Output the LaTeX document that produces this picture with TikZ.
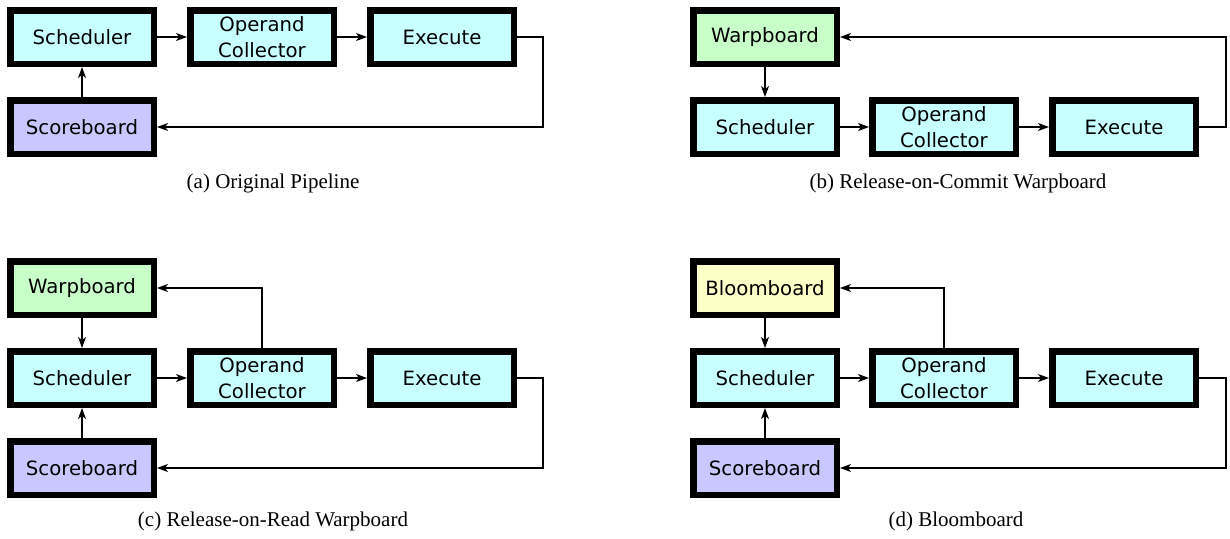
\documentclass[tikz,border=0pt]{standalone}
\usepackage{fontspec}
\setmainfont{Liberation Serif}
\newfontfamily\boxfont{DejaVu Sans}
\usetikzlibrary{arrows.meta}

\definecolor{unitcyan}{RGB}{200,255,255}
\definecolor{scorepurple}{RGB}{200,200,255}
\definecolor{warpgreen}{RGB}{200,255,200}
\definecolor{bloomyellow}{RGB}{255,255,200}

\tikzset{
  unit/.style={draw=black, line width=6.5pt, rectangle,
    minimum width=143.5pt, minimum height=53.5pt, inner sep=0pt,
    align=center, font=\boxfont\fontsize{19.7}{25.5}\selectfont},
  stage/.style={unit, fill=unitcyan},
  scoreunit/.style={unit, fill=scorepurple},
  warpunit/.style={unit, fill=warpgreen},
  bloomunit/.style={unit, fill=bloomyellow},
  link/.style={line width=1.2pt, -{Stealth[length=11pt,width=8pt,inset=3pt]}},
  caption/.style={font=\fontsize{21}{25}\selectfont, inner sep=0pt}
}

\begin{document}
\begin{tikzpicture}[x=1pt, y=-1pt]
\useasboundingbox (0,0) rectangle (1230,538);

% (a) baseline pipeline
\node[stage] (aSch) at (82,37) {Scheduler};
\node[stage] (aOC) at (262,37) {Operand\\Collector};
\node[stage] (aEx) at (442,37) {Execute};
\node[scoreunit] (aSB) at (82,127) {Scoreboard};
\coordinate (aR1) at (543,37);
\coordinate (aR2) at (543,127);
\draw[link] (aSch) -- (aOC);
\draw[link] (aOC) -- (aEx);
\draw[link] (aSB) -- (aSch);
\draw[link] (aEx.east) -- (aR1) -- (aR2) -- (aSB.east);
\node[caption] (aCap) at (273,183) {(a) Original Pipeline};

% (b) warpboard released on commit
\node[warpunit] (bWB) at (765,37) {Warpboard};
\node[stage] (bSch) at (765,127) {Scheduler};
\node[stage] (bOC) at (944,127) {Operand\\Collector};
\node[stage] (bEx) at (1124,127) {Execute};
\coordinate (bR1) at (1226,127);
\coordinate (bR2) at (1226,37);
\draw[link] (bWB) -- (bSch);
\draw[link] (bSch) -- (bOC);
\draw[link] (bOC) -- (bEx);
\draw[link] (bEx.east) -- (bR1) -- (bR2) -- (bWB.east);
\node[caption] (bCap) at (958,183) {(b) Release-on-Commit Warpboard};

% (c) warpboard released on read
\node[warpunit] (cWB) at (82,288) {Warpboard};
\node[stage] (cSch) at (82,378) {Scheduler};
\node[scoreunit] (cSB) at (82,468) {Scoreboard};
\node[stage] (cOC) at (262,378) {Operand\\Collector};
\node[stage] (cEx) at (442,378) {Execute};
\coordinate (cU) at (262,288);
\coordinate (cR1) at (543,378);
\coordinate (cR2) at (543,468);
\draw[link] (cWB) -- (cSch);
\draw[link] (cSB) -- (cSch);
\draw[link] (cSch) -- (cOC);
\draw[link] (cOC) -- (cEx);
\draw[link] (cOC.north) -- (cU) -- (cWB.east);
\draw[link] (cEx.east) -- (cR1) -- (cR2) -- (cSB.east);
\node[caption] (cCap) at (273,521) {(c) Release-on-Read Warpboard};

% (d) bloomboard
\node[bloomunit] (dBB) at (765,288) {Bloomboard};
\node[stage] (dSch) at (765,378) {Scheduler};
\node[scoreunit] (dSB) at (765,468) {Scoreboard};
\node[stage] (dOC) at (944,378) {Operand\\Collector};
\node[stage] (dEx) at (1124,378) {Execute};
\coordinate (dU) at (944,288);
\coordinate (dR1) at (1226,378);
\coordinate (dR2) at (1226,468);
\draw[link] (dBB) -- (dSch);
\draw[link] (dSB) -- (dSch);
\draw[link] (dSch) -- (dOC);
\draw[link] (dOC) -- (dEx);
\draw[link] (dOC.north) -- (dU) -- (dBB.east);
\draw[link] (dEx.east) -- (dR1) -- (dR2) -- (dSB.east);
\node[caption] (dCap) at (956,521) {(d) Bloomboard};
\end{tikzpicture}
\end{document}
